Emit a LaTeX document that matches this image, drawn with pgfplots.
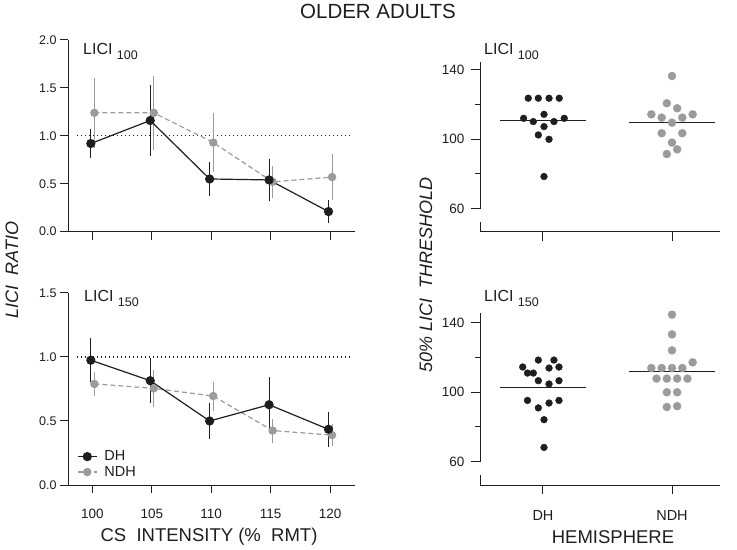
\documentclass[border=0pt]{standalone}
\usepackage{fontspec}
\setmainfont{Liberation Sans}
\usepackage{pgfplots}
\pgfplotsset{compat=1.18}
\definecolor{dk}{RGB}{30,30,30}
\definecolor{gr}{RGB}{155,155,155}
\newcommand{\fsz}[1]{\fontsize{#1bp}{#1bp}\selectfont}
\pgfplotsset{
  base/.style={scale only axis, axis x line=bottom, axis y line=left,
    axis line style={-, line width=1bp, dk}, tick align=outside,
    major tick length=8bp, tick style={line width=1bp, dk},
    /pgf/number format/assume math mode=true,
    tick label style={text=dk},
    xticklabel style={font=\fsz{13.5}, yshift=-13bp},
    enlargelimits=false, clip=false},
  lft/.style={base, width=287bp, xmin=97.95, xmax=122.1, xtick={100,105,110,115,120},
    major tick length=8bp, ymin=0,
    yticklabel={\pgfmathprintnumber[fixed,fixed zerofill,precision=1]{\tick}},
    yticklabel style={font=\fsz{12.5}}},
  rt/.style={base, width=240bp, xmin=0.512, xmax=2.372, xtick={1,2}, ymin=46.5,
    ytick={60,100,140}, minor ytick={80,120}, minor tick length=5bp, major tick length=9bp,
    y axis line style={draw=none},
    yticklabel style={font=\fsz{13.5}, xshift=-3bp},
    xticklabel style={font=\fsz{14.5}}},
  dh/.style={dk, line width=1.2bp, mark=*, mark size=4bp, mark options={solid, fill=dk, draw=dk},
    error bars/.cd, y dir=both, y explicit, error bar style={line width=1.1bp, dk, solid},
    error mark=-, error mark options={mark size=1.7bp, line width=1.1bp, dk}},
  ndh/.style={gr, line width=1.2bp, dash pattern=on 5bp off 3bp, mark=*, mark size=3.6bp,
    mark options={solid, fill=gr, draw=gr},
    error bars/.cd, y dir=both, y explicit, error bar style={line width=1.1bp, gr, solid},
    error mark=-, error mark options={mark size=1.7bp, line width=1.1bp, gr}},
  dotref/.style={dk, line width=1.1bp, dash pattern=on 1.2bp off 2.8bp},
  med/.style={dk, line width=1.3bp},
  axl/.style={dk, line width=1bp, forget plot},
}
\begin{document}
\begin{tikzpicture}
% ---------- top left
\begin{axis}[lft, at={(68bp,318.3bp)}, anchor=south west, height=191.7bp, ymax=2.0,
  ytick={0,0.5,1,1.5,2}, xticklabels={}]
\addplot[dotref] coordinates {(98.7,1) (121.8,1)};
\addplot[ndh] table[x=x,y=y,y error=e] {
x y e
100.17 1.24 0.35
105.17 1.24 0.37
110.17 0.93 0.29
115.17 0.52 0.15
120.17 0.57 0.22
};
\addplot[dh] table[x=x,y=y,y error=e] {
x y e
99.87 0.92 0.13
104.87 1.16 0.35
109.87 0.55 0.155
114.87 0.54 0.20
119.87 0.21 0.10
};
\end{axis}
% ---------- bottom left
\begin{axis}[lft, at={(68bp,65bp)}, anchor=south west, height=192bp, ymax=1.5,
  ytick={0,0.5,1,1.5}, reverse legend, legend cell align=left,
  legend style={at={(0,0)}, anchor=south west, xshift=8bp, yshift=4bp, draw=none, fill=none,
    font=\fsz{14.5}, row sep=0bp, inner sep=1bp, text=dk},
  legend image code/.code={\draw[mark repeat=2,mark phase=2,#1] plot coordinates {(0bp,0bp) (9.5bp,0bp) (19bp,0bp)}; \path (24bp,0bp);}]
\addplot[dotref, forget plot] coordinates {(98.7,1) (121.8,1)};
\addplot[ndh] table[x=x,y=y,y error=e] {
x y e
100.17 0.79 0.08
105.17 0.755 0.13
110.17 0.695 0.10
115.17 0.425 0.08
120.17 0.39 0.07
};
\addlegendentry{NDH}
\addplot[dh] table[x=x,y=y,y error=e] {
x y e
99.87 0.975 0.16
104.87 0.815 0.16
109.87 0.50 0.13
114.87 0.627 0.20
119.87 0.435 0.125
};
\addlegendentry{DH}
\end{axis}
% ---------- top right
\begin{axis}[rt, at={(480bp,318bp)}, anchor=south west, height=170bp, ymax=144.6, xticklabels={}]
\addplot[axl] coordinates {(0.512,60) (0.512,144.6)};
\addplot[axl] coordinates {(0.512,46.5) (0.512,52)};
\addplot[med] coordinates {(0.67,110.7) (1.33,110.7)};
\addplot[med] coordinates {(1.667,109.6) (2.33,109.6)};
\addplot[only marks, mark=*, mark size=3.4bp, dk, mark options={fill=dk, draw=dk}] table[x=x,y=y] {
x y
0.886 123.7
0.964 123.7
1.047 123.7
1.126 123.7
1.008 114.4
0.85 112.1
1.165 112.1
0.925 110.2
1.085 110.2
1.008 107.3
0.964 102.5
1.047 100.0
1.008 78.5
};
\addplot[only marks, mark=*, mark size=4bp, gr, mark options={fill=gr, draw=gr}] table[x=x,y=y] {
x y
2.0 136.5
1.96 120.8
2.04 117.9
1.84 114.4
2.16 114.4
1.92 112.5
2.08 112.5
2.0 109.6
1.92 103.5
2.08 103.5
2.0 98.1
2.04 94.2
1.96 91.5
};
\end{axis}
% ---------- bottom right
\begin{axis}[rt, at={(480bp,65bp)}, anchor=south west, height=172.4bp, ymax=146,
  xticklabels={DH,NDH}]
\addplot[axl] coordinates {(0.512,60) (0.512,146)};
\addplot[axl] coordinates {(0.512,46.5) (0.512,52)};
\addplot[med] coordinates {(0.67,102.8) (1.33,102.8)};
\addplot[med] coordinates {(1.667,112.1) (2.33,112.1)};
\addplot[only marks, mark=*, mark size=3.4bp, dk, mark options={fill=dk, draw=dk}] table[x=x,y=y] {
x y
0.964 118.6
1.085 118.6
0.843 114.6
1.047 114.0
1.124 114.6
0.88 111.1
0.925 111.1
0.964 106.7
1.124 106.7
1.047 104.8
0.88 95.3
1.124 95.3
1.047 93.8
0.964 91.0
1.008 84.2
1.008 68.2
};
\addplot[only marks, mark=*, mark size=4bp, gr, mark options={fill=gr, draw=gr}] table[x=x,y=y] {
x y
2.0 144.8
2.0 133.4
2.0 124.2
2.16 117.3
1.84 114.0
1.92 114.0
2.0 114.0
2.08 114.0
1.88 107.9
1.96 107.9
2.04 107.9
2.12 107.9
1.96 100.0
2.04 100.0
1.96 91.5
2.04 92.0
};
\end{axis}
% ---------- texts
\node[anchor=base, text=dk, font=\fsz{20.5}] at (378bp,531.3bp) {OLDER ADULTS};
\node[anchor=base west, text=dk, font=\fsz{16}, inner sep=0] at (83bp,495bp) {LICI \raisebox{-5bp}{\fsz{12.5}100}};
\node[anchor=base west, text=dk, font=\fsz{16}, inner sep=0] at (484bp,495bp) {LICI \raisebox{-5bp}{\fsz{12.5}100}};
\node[anchor=base west, text=dk, font=\fsz{16}, inner sep=0] at (84bp,248.3bp) {LICI \raisebox{-5bp}{\fsz{12.5}150}};
\node[anchor=base west, text=dk, font=\fsz{16}, inner sep=0] at (484bp,248.3bp) {LICI \raisebox{-5bp}{\fsz{12.5}150}};
\node[anchor=center, text=dk, font=\fsz{18.5}] at (209bp,13bp) {CS\ \ INTENSITY (\%\ \ RMT)};
\node[anchor=center, text=dk, font=\fsz{18.5}] at (613bp,13bp) {HEMISPHERE};
\node[anchor=center, rotate=90, text=dk, font=\fsz{18}\itshape] at (12bp,280bp) {LICI\ \ RATIO};
\node[anchor=center, rotate=90, text=dk, font=\fsz{18}\itshape] at (426bp,275bp) {50\% LICI\ \ THRESHOLD};
\pgfresetboundingbox
\path[use as bounding box] (0bp,0bp) rectangle (737bp,550bp);
\end{tikzpicture}
\end{document}
